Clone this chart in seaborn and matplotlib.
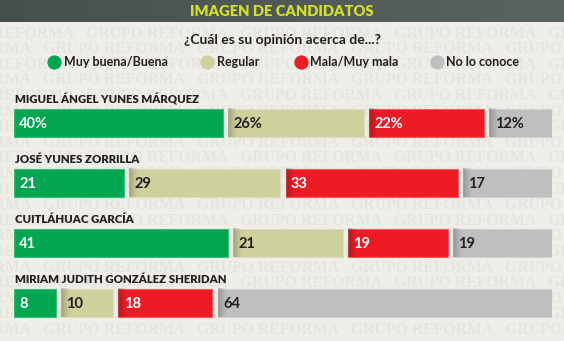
import numpy as np
import pandas as pd
import matplotlib
matplotlib.use("Agg")
import matplotlib.pyplot as plt
import seaborn as sns

# ---- data ----
candidates = ["MIGUEL ÁNGEL YUNES MÁRQUEZ", "JOSÉ YUNES ZORRILLA",
              "CUITLÁHUAC GARCÍA", "MIRIAM JUDITH GONZÁLEZ SHERIDAN"]
categories = ["Muy buena/Buena", "Regular", "Mala/Muy mala", "No lo conoce"]
muy_buena = [40, 21, 41, 8]
regular = [26, 29, 21, 10]
mala = [22, 33, 19, 18]
no_conoce = [12, 17, 19, 64]
title = "IMAGEN DE CANDIDATOS"
subtitle = "¿Cuál es su opinión acerca de...?"
watermark = "GRUPO REFORMA"

# ---- style ----
colors = ["#00a650", "#cfd19d", "#ed1c24", "#bebfbf"]
edge_colors = ["#3dbb78", "#dcdeb8", "#f25a5f", "#d0d1d1"]
text_colors = ["white", "#231f20", "white", "#231f20"]
bg_color = "#efeee9"
wm_color = "#e6e4de"
dark = "#231f20"

sns.set_theme(style="white")
plt.rcParams["font.family"] = ["Lato", "DejaVu Sans"]

df = pd.DataFrame({"candidate": candidates, categories[0]: muy_buena,
                   categories[1]: regular, categories[2]: mala,
                   categories[3]: no_conoce})

W, H = 564, 341
fig = plt.figure(figsize=(W / 100, H / 100), dpi=100)
fig.patch.set_facecolor(bg_color)

# overlay axes in pixel coordinates for decorations
bg = fig.add_axes([0, 0, 1, 1], zorder=0)

# watermark pattern
row_y = np.arange(33.6, 340, 15.6)
for i, yy in enumerate(row_y):
    phase = 43 if i % 2 == 1 else 86
    for xx in np.arange(phase - 154, W, 154):
        bg.text(xx, yy, watermark, fontsize=11.3, fontweight="bold",
                family="Liberation Serif", color=wm_color,
                ha="left", va="center", zorder=0)

# header band (slight horizontal gradient)
grad = np.linspace(0, 1, 256)[None, :]
c0 = np.array([0x47, 0x50, 0x4c]) / 255
c1 = np.array([0x5a, 0x63, 0x5f]) / 255
header_img = c0[None, None, :] * (1 - grad[..., None]) + c1[None, None, :] * grad[..., None]
bg.imshow(header_img, extent=(0, W, 22.5, 0), aspect="auto", zorder=2)
bg.set_xlim(0, W)
bg.set_ylim(H, 0)
bg.axis("off")
bg.text(282, 12, title, color="#d4df2c", fontsize=10.6, fontweight="heavy",
        ha="center", va="center", zorder=3)
bg.text(282, 40.5, subtitle, color=dark, fontsize=10, fontweight="bold",
        ha="center", va="center", zorder=3)

# legend
leg_x = [54, 207, 301, 437]
for cx, cat, col in zip(leg_x, categories, colors):
    bg.scatter([cx], [62], s=105, color=col, zorder=3, linewidths=0)
    bg.text(cx + 9.5, 62, cat, color=dark, fontsize=9.0, fontweight="bold",
            ha="left", va="center", zorder=3)

# bar axes
ax = fig.add_axes([14 / W, (H - 333) / H, 538 / W, 240 / H], zorder=1)
ax.patch.set_alpha(0)
gap = 1.0
xmax = 100 + 3 * gap
bar_h = 0.467

shade = np.zeros((1, 32, 4))
shade[..., 3] = np.linspace(0.32, 0.0, 32) ** 1.3

for i, cand in enumerate(df["candidate"]):
    left = 0.0
    for j, cat in enumerate(categories):
        v = df.loc[i, cat]
        ax.barh(i, v, left=left, height=bar_h, color=colors[j],
                edgecolor=edge_colors[j], linewidth=0.8, zorder=1)
        if j > 0:
            ax.imshow(shade, extent=(left, left + 1.8, i + bar_h / 2, i - bar_h / 2),
                      aspect="auto", zorder=2, interpolation="bilinear")
        label = f"{v}%" if i == 0 else f"{v}"
        ax.text(left + 1.0, i + 0.01, label, color=text_colors[j], fontsize=10.5,
                fontweight="bold", ha="left", va="center", zorder=3)
        left += v + gap
    ax.text(0.1, i - 0.385, cand, color=dark, fontsize=8.2, fontweight="heavy",
            ha="left", va="center")

ax.set_xlim(0, xmax)
ax.set_ylim(len(candidates) - 0.5, -0.5)
ax.axis("off")

fig.savefig("out.png", dpi=100, facecolor=bg_color)
